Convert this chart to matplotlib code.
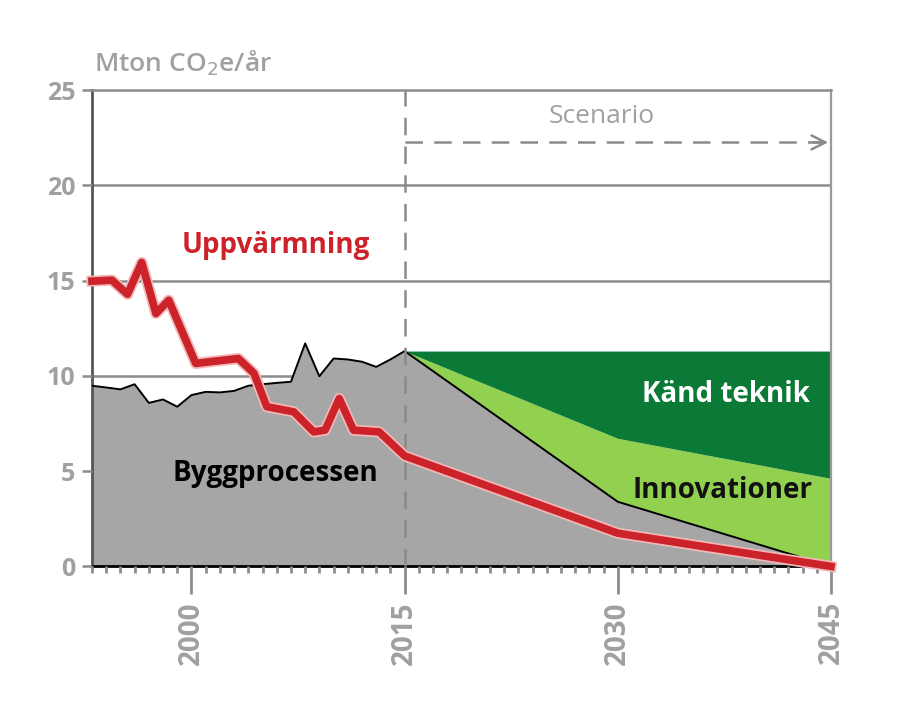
import numpy as np
import matplotlib
matplotlib.use("Agg")
import matplotlib.pyplot as plt
from matplotlib.ticker import MultipleLocator

plt.rcParams['font.family'] = ['Open Sans', 'DejaVu Sans']

# historic construction emissions (Byggprocessen), Mton CO2e per year
hist_years = list(range(1993, 2016))
bygg_hist = [9.48, 9.39, 9.29, 9.56, 8.58, 8.76, 8.38, 8.99, 9.16, 9.13, 9.21, 9.48,
             9.56, 9.63, 9.69, 11.7, 9.98, 10.91, 10.86, 10.74, 10.47, 10.86, 11.3]

# scenario part
scen_years = [2015, 2030, 2045]
bygg_scen = [11.3, 3.39, 0.0]
innov_top = [11.3, 6.72, 4.62]
kand_top = [11.3, 11.3, 11.3]

# heating emissions (Uppvärmning)
heat_years = [1993, 1994.4, 1995.5, 1996.5, 1997.5, 1998.4, 2000.3, 2001.3, 2003.3,
              2004.4, 2005.3, 2007.2, 2008.6, 2009.4, 2010.4, 2011.4, 2013.2, 2015,
              2030, 2045]
heat_vals = [14.97, 15.02, 14.28, 15.95, 13.27, 13.97, 10.65, 10.74, 10.91,
             10.13, 8.38, 8.11, 7.06, 7.15, 8.81, 7.15, 7.06, 5.8,
             1.74, 0.0]

year_ticks = [2000, 2015, 2030, 2045]

GRID = '#8c8c8c'
TXT = '#a0a0a0'

fig = plt.figure(figsize=(9.01, 7.23), dpi=100)
ax = fig.add_axes([0.1021, 0.2166, 0.8202, 0.6589])

yrs = hist_years + scen_years[1:]
bygg = bygg_hist + bygg_scen[1:]

# areas
ax.fill_between(yrs, 0, bygg, color='#a6a6a6', lw=0, zorder=1)
ax.fill_between(scen_years, bygg_scen, innov_top, color='#92d050', lw=0, zorder=1)
ax.fill_between(scen_years, innov_top, kand_top, color='#0b7a37', lw=0, zorder=1)
ax.plot(yrs, bygg, color='black', lw=1.4, zorder=3)

# grid
for v in [5, 10, 15, 20]:
    ax.axhline(v, color=GRID, lw=1.8, zorder=0.5)

# scenario marker
ax.plot([2015, 2015], [0, 25], color='#8a8a8a', lw=1.8, ls=(0, (7, 4.5)), zorder=4)
ax.plot([2015, 2044.6], [22.25, 22.25], color='#8a8a8a', lw=1.8, ls=(0, (7, 4.5)), zorder=4)
ax.annotate('', xy=(2045, 22.25), xytext=(2043.6, 22.25),
            arrowprops=dict(arrowstyle='->,head_length=1.0,head_width=0.5',
                            color='#8a8a8a', lw=1.8), zorder=4)
ax.text(2028.9, 23.6, 'Scenario', color=TXT, fontsize=19, ha='center', va='center')

# heating line
ax.plot(heat_years, heat_vals, color='#f2b8b8', lw=8, solid_joinstyle='round',
        zorder=5, clip_on=False)
ax.plot(heat_years, heat_vals, color='#cc2229', lw=5.5, solid_joinstyle='round',
        zorder=6, clip_on=False)

# labels
lab_kw = dict(fontsize=20, fontweight='bold', ha='center', va='center')
ax.text(2005.9, 16.85, 'Uppvärmning', color='#cc2229', **lab_kw)
ax.text(2005.9, 4.85, 'Byggprocessen', color='black', **lab_kw)
ax.text(2037.6, 9.0, 'Känd teknik', color='white', **lab_kw)
ax.text(2037.4, 4.0, 'Innovationer', color='#111111', **lab_kw)

fig.text(0.104, 0.912, 'Mton CO$_2$e/år', color=TXT, fontsize=19, fontweight='semibold',
         ha='left', va='center')

# axes
ax.set_xlim(1993, 2045)
ax.set_ylim(0, 25)
ax.set_yticks([0, 5, 10, 15, 20, 25])
ax.set_xticks(year_ticks)
ax.xaxis.set_minor_locator(MultipleLocator(1))
ax.tick_params(axis='y', colors=GRID, length=7, width=1.8, pad=5, labelcolor=TXT,
               labelsize=18)
ax.tick_params(axis='x', which='major', colors=GRID, length=20, width=2, pad=5,
               labelcolor=TXT, labelsize=20, labelrotation=90)
ax.tick_params(axis='x', which='minor', colors=GRID, length=5, width=2)
for lab in ax.get_xticklabels() + ax.get_yticklabels():
    lab.set_fontweight('bold')

ax.spines['left'].set_color('#555555')
ax.spines['left'].set_linewidth(2)
ax.spines['bottom'].set_color('black')
ax.spines['bottom'].set_linewidth(2)
ax.spines['right'].set_color('#9a9a9a')
ax.spines['right'].set_linewidth(1.6)
ax.spines['top'].set_color(GRID)
ax.spines['top'].set_linewidth(1.8)
ax.set_axisbelow(False)

fig.savefig('out.png', dpi=100, facecolor='white')
